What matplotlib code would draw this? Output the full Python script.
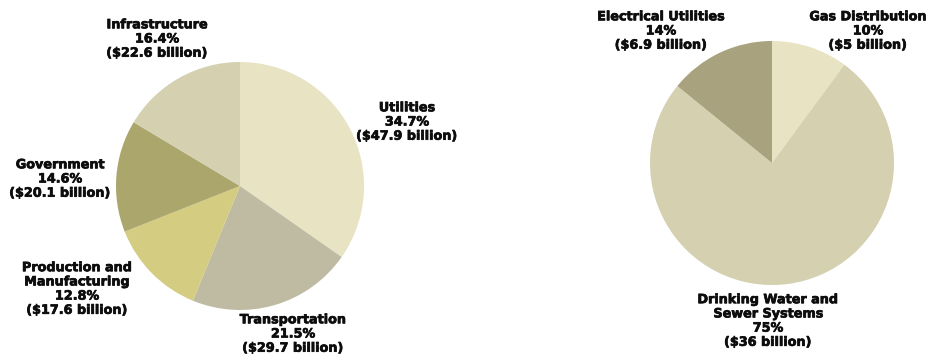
import matplotlib.pyplot as plt
import matplotlib.patheffects as pe

# sector shares (percent) and dollar amounts (billions)
sector_names = ["Utilities", "Transportation", "Production and\nManufacturing",
                "Government", "Infrastructure"]
sector_pct = [34.7, 21.5, 12.8, 14.6, 16.4]
sector_billions = [47.9, 29.7, 17.6, 20.1, 22.6]

utility_names = ["Gas Distribution", "Drinking Water and\nSewer Systems",
                 "Electrical Utilities"]
utility_pct = [10, 75, 14]
utility_billions = [5, 36, 6.9]

sector_colors = ["#e8e3c3", "#bfbba2", "#d4cc80", "#aba66c", "#d4d0b0"]
utility_colors = ["#e8e3c3", "#d4d0b0", "#a8a37e"]

W, H = 933, 358
fig = plt.figure(figsize=(W / 100, H / 100), dpi=100)

# slightly thicker strokes for a heavier label face
heavy = [pe.Stroke(linewidth=0.5, foreground="#0d0d0d"), pe.Normal()]


def pie_axes(cx, cy, r):
    # place an axes so the pie of radius 1 sits at pixel centre (cx, cy)
    ax = fig.add_axes([(cx - r) / W, (H - cy - r) / H, 2 * r / W, 2 * r / H])
    return ax


def label(ax, cx, cy, r, x, y, name, pct, amount):
    txt = f"{name}\n{pct:g}%\n(${amount:g} billion)"
    ax.text((x - cx) / r, (cy - y) / r, txt, ha="center", va="center",
            fontsize=9.2, fontweight="heavy", linespacing=1.12,
            family="DejaVu Sans", color="#0d0d0d", clip_on=False,
            parse_math=False, path_effects=heavy)


# left pie
lcx, lcy, lr = 240, 186, 124
ax1 = pie_axes(lcx, lcy, lr)
ax1.pie(sector_pct, colors=sector_colors, startangle=90, counterclock=False,
        radius=1, wedgeprops=dict(linewidth=0))
ax1.set_xlim(-1, 1)
ax1.set_ylim(-1, 1)
ax1.set_aspect("equal")
left_pos = [(407, 122), (293, 334), (77, 289), (60, 179), (157, 39)]
for (x, y), n, p, b in zip(left_pos, sector_names, sector_pct, sector_billions):
    label(ax1, lcx, lcy, lr, x, y, n, p, b)

# right pie
rcx, rcy, rr = 772, 163, 122
ax2 = pie_axes(rcx, rcy, rr)
ax2.pie(utility_pct, colors=utility_colors, startangle=90, counterclock=False,
        radius=1, wedgeprops=dict(linewidth=0))
ax2.set_xlim(-1, 1)
ax2.set_ylim(-1, 1)
ax2.set_aspect("equal")
right_pos = [(868, 31), (768, 321), (661, 31)]
for (x, y), n, p, b in zip(right_pos, utility_names, utility_pct, utility_billions):
    label(ax2, rcx, rcy, rr, x, y, n, p, b)

fig.savefig("out.png", dpi=100)
